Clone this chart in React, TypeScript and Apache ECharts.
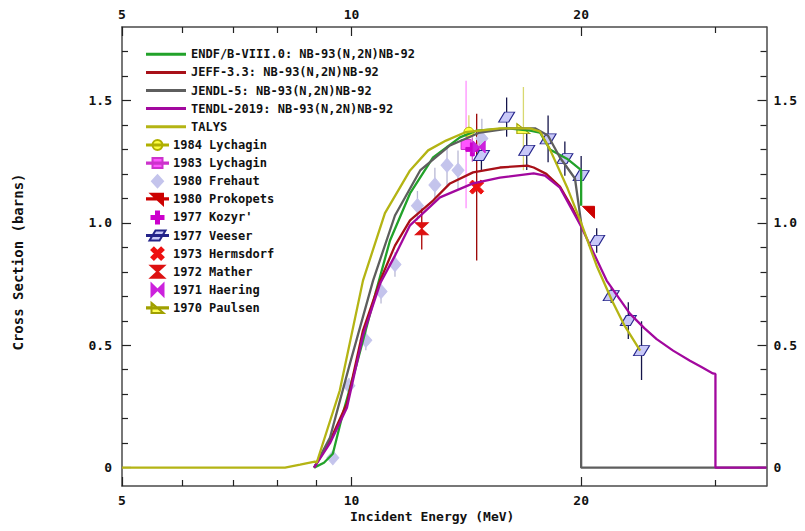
import React, { useEffect, useRef } from "react";
import * as echarts from "echarts";

// ---------- axis ticks ----------
const xTickMajor = [5, 10, 20];
const xTickMinor = [6, 7, 8, 9, 30];
const yTickMajor = [0, 0.5, 1.0, 1.5];
const yTickMinor = [0.1, 0.2, 0.3, 0.4, 0.6, 0.7, 0.8, 0.9, 1.1, 1.2, 1.3, 1.4, 1.6, 1.7];

// ---------- evaluated curves [E (MeV), sigma (b)] ----------
const endfData = [
  [8.93, 0], [9.2, 0.02], [9.45, 0.057], [9.74, 0.221], [10.16, 0.425], [10.8, 0.736],
  [11.23, 0.928], [11.93, 1.12], [12.79, 1.267], [13.87, 1.349], [14.6, 1.377], [16.0, 1.386],
  [17.14, 1.377], [17.66, 1.369], [18.2, 1.3], [19.16, 1.262], [20.0, 1.215], [20.0, 1.07],
];
const jeffData = [
  [8.93, 0], [9.37, 0.11], [9.86, 0.262], [10.35, 0.56], [10.9, 0.764], [11.4, 0.907],
  [11.93, 1.01], [12.79, 1.091], [13.46, 1.161], [14.43, 1.206], [15.65, 1.226], [17.0, 1.234],
  [17.33, 1.226], [18.0, 1.2], [18.76, 1.148], [19.4, 1.07], [20.0, 0.99],
];
const jendlData = [
  [8.93, 0], [9.37, 0.123], [9.95, 0.425], [10.67, 0.764], [11.4, 1.03], [12.3, 1.214],
  [13.46, 1.316], [14.73, 1.369], [16.13, 1.386], [17.4, 1.386], [18.09, 1.357], [18.76, 1.267],
  [19.63, 1.181], [20.0, 1.0], [20.0, 0], [35, 0],
];
const tendlData = [
  [8.93, 0], [9.37, 0.1], [9.86, 0.245], [10.35, 0.54], [10.9, 0.752], [11.4, 0.866],
  [11.93, 0.99], [13.06, 1.104], [14.43, 1.161], [15.65, 1.185], [17.33, 1.202], [17.93, 1.193],
  [18.76, 1.144], [20.0, 0.985], [21.6, 0.764], [23.17, 0.629], [24.2, 0.57], [25.12, 0.525],
  [26.4, 0.478], [27.78, 0.437], [28.8, 0.41], [29.77, 0.385], [30, 0.383], [30, 0], [35, 0],
];
const talysData = [
  [5, 0], [8.18, 0], [8.56, 0.012], [8.95, 0.025], [9.0, 0.02], [9.65, 0.315], [10.35, 0.764],
  [11.06, 1.04], [11.93, 1.214], [12.6, 1.296], [13.3, 1.336], [14.1, 1.37], [15.65, 1.386],
  [17.14, 1.386], [17.66, 1.373], [18.2, 1.3], [19.2, 1.14], [20.0, 1.0], [20.95, 0.826],
  [21.95, 0.683], [22.8, 0.58], [23.9, 0.478],
];

// ---------- experimental data [E, sigma, error] ----------
const lychagin84 = [[14.25, 1.37, 0.07]];
const lychagin83 = [[14.13, 1.32, 0.26]];
const frehaut = [
  [9.45, 0.04, 0.02], [9.92, 0.335, 0.03], [10.44, 0.52, 0.04], [10.93, 0.72, 0.05],
  [11.4, 0.83, 0.05], [12.2, 1.07, 0.06], [12.86, 1.155, 0.07], [13.34, 1.235, 0.08],
  [13.79, 1.215, 0.08], [14.82, 1.345, 0.08],
];
const prokopets = [[20.45, 1.043, 0]];
const kozyr = [[14.4, 1.3, 0.05]];
const veeser = [
  [14.8, 1.275, 0.06], [15.97, 1.432, 0.08], [16.97, 1.296, 0.08], [18.1, 1.343, 0.095],
  [19.04, 1.262, 0.07], [20.0, 1.193, 0.08], [20.96, 0.928, 0.05], [21.9, 0.703, 0.03],
  [23.06, 0.601, 0.075], [24.0, 0.478, 0.12],
];
const hermsdorf = [[14.59, 1.146, 0.3]];
const mather = [[12.36, 0.976, 0.085]];
const haering = [[14.7, 1.31, 0.05]];
const paulsen = [[16.8, 1.385, 0.17]];

const FONT = "DejaVu Sans Mono";
const LINE_ICON = "path://M0,0H40V3H0Z";
const BAR = "M0,5.4H21V6.6H0Z";

const lineDefs = [
  { name: "ENDF/B-VIII.0: NB-93(N,2N)NB-92", data: endfData, color: "#22a22a" },
  { name: "JEFF-3.3: NB-93(N,2N)NB-92", data: jeffData, color: "#a81018" },
  { name: "JENDL-5: NB-93(N,2N)NB-92", data: jendlData, color: "#5e5e5e" },
  { name: "TENDL-2019: NB-93(N,2N)NB-92", data: tendlData, color: "#a2089e" },
  { name: "TALYS", data: talysData, color: "#b4b414" },
];

const expDefs = [
  {
    name: "1984 Lychagin", data: lychagin84, symbol: "circle", size: 10,
    icon: "path://" + BAR + "M5.5,6A5,5 0 1,1 15.5,6A5,5 0 1,1 5.5,6Z",
    fill: "#ffff40", border: "#b0b000", err: "#d8d870",
  },
  {
    name: "1983 Lychagin", data: lychagin83, symbol: "rect", size: 10,
    icon: "path://" + BAR + "M5.5,1H15.5V11H5.5Z",
    fill: "#ff55ff", border: "#cc33cc", err: "#ff90ff",
  },
  {
    name: "1980 Frehaut", data: frehaut, symbol: "diamond", size: [12, 14],
    icon: "path://M10.5,0L16,6L10.5,12L5,6Z",
    fill: "#c4c4ec", border: "#c4c4ec", err: "#b8b8d4",
  },
  {
    name: "1980 Prokopets", data: prokopets, symbol: "path://M0,0L12,0L12,12Z", size: [12, 12],
    icon: "path://" + BAR + "M4,1H16V12Z",
    fill: "#cc0000", border: "#cc0000", err: "#cc0000",
  },
  {
    name: "1977 Kozyr'", data: kozyr, symbol: "path://M3.5,0H6.5V3.5H10V6.5H6.5V10H3.5V6.5H0V3.5H3.5Z", size: 13,
    icon: "path://M9,0H12V4.5H16.5V7.5H12V12H9V7.5H4.5V4.5H9Z",
    fill: "#cc00cc", border: "#cc00cc", err: "#cc66cc",
  },
  {
    name: "1977 Veeser", data: veeser, symbol: "path://M0,10L6,0L16,0L10,10Z", size: [16, 10],
    icon: "path://" + BAR + "M2.5,11L8.5,1H18.5L12.5,11Z",
    fill: "#c8c8f8", border: "#24248a", err: "#14144a",
  },
  {
    name: "1973 Hermsdorf", data: hermsdorf, symbol: "path://M2,0L5,3L8,0L10,2L7,5L10,8L8,10L5,7L2,10L0,8L3,5L0,2Z", size: 14,
    icon: "path://M6.9,0L10.5,3.6L14.1,0L16.5,2.4L12.9,6L16.5,9.6L14.1,12L10.5,8.4L6.9,12L4.5,9.6L8.1,6L4.5,2.4Z",
    fill: "#ee1111", border: "#ee1111", err: "#990000",
  },
  {
    name: "1972 Mather", data: mather, symbol: "path://M0,0L10,0L0,10L10,10Z", size: [13, 12],
    icon: "path://M4.5,0.5L16.5,0.5L4.5,11.5L16.5,11.5Z",
    fill: "#dd1111", border: "#dd1111", err: "#aa0000",
  },
  {
    name: "1971 Haering", data: haering, symbol: "path://M0,0L0,10L10,0L10,10Z", size: [12, 12],
    icon: "path://M5,0.5L5,11.5L16,0.5L16,11.5Z",
    fill: "#cc22dd", border: "#cc22dd", err: "#cc66cc",
  },
  {
    name: "1970 Paulsen", data: paulsen, symbol: "path://M0,0L0,10L12,10Z", size: [13, 10],
    icon: "path://" + BAR + "M4.5,1L4.5,11H16.5Z",
    fill: "#ffff55", border: "#a0a000", err: "#d8d870",
  },
];

const AXIS_COLOR = "#4a4a4a";

function makeXAxis(position: string, ticks: number[], len: number, labels: boolean, line: boolean) {
  return {
    type: "log",
    logBase: 10,
    min: 5,
    max: 35,
    position,
    axisLine: { show: line, onZero: false, lineStyle: { color: AXIS_COLOR, width: 1.5 } },
    axisTick: { show: true, inside: true, length: len, customValues: ticks, lineStyle: { color: "#222", width: 1.2 } },
    axisLabel: {
      show: labels,
      customValues: ticks,
      margin: position === "top" ? 6 : 8,
      fontFamily: FONT,
      fontSize: 13,
      fontWeight: "bold",
      color: "#111",
    },
    splitLine: { show: false },
    minorTick: { show: false },
    minorSplitLine: { show: false },
  };
}

function makeYAxis(position: string, ticks: number[], len: number, labels: boolean, line: boolean) {
  return {
    type: "value",
    min: -0.075,
    max: 1.8,
    position,
    axisLine: { show: line, onZero: false, lineStyle: { color: AXIS_COLOR, width: 1.5 } },
    axisTick: { show: true, inside: true, length: len, customValues: ticks, lineStyle: { color: "#222", width: 1.2 } },
    axisLabel: {
      show: labels,
      customValues: ticks,
      margin: position === "left" ? 10 : 7,
      fontFamily: FONT,
      fontSize: 13,
      fontWeight: "bold",
      color: "#111",
      formatter: (v: number) => (v === 0 ? "0" : v.toFixed(1)),
    },
    splitLine: { show: false },
  };
}

export default function App() {
  const ref = useRef<HTMLDivElement | null>(null);

  useEffect(() => {
    if (!ref.current) return;
    const chart = echarts.init(ref.current, undefined, { renderer: "svg" });

    const series: any[] = [];
    lineDefs.forEach((d) => {
      series.push({
        name: d.name,
        type: "line",
        data: d.data,
        showSymbol: false,
        symbol: "none",
        lineStyle: { color: d.color, width: 2.3 },
        itemStyle: { color: d.color },
        xAxisIndex: 0,
        yAxisIndex: 0,
      });
    });
    expDefs.forEach((d) => {
      const errColor = d.err;
      series.push({
        name: d.name + " err",
        type: "custom",
        xAxisIndex: 0,
        yAxisIndex: 0,
        data: d.data.filter((p) => p[2] > 0).map((p) => [p[0], p[1] - p[2], p[1] + p[2]]),
        encode: { x: 0, y: [1, 2] },
        renderItem: (_params: any, api: any) => {
          const x = api.value(0);
          const p1 = api.coord([x, api.value(1)]);
          const p2 = api.coord([x, api.value(2)]);
          return {
            type: "line",
            shape: { x1: p1[0], y1: p1[1], x2: p2[0], y2: p2[1] },
            style: { stroke: errColor, lineWidth: 1.3 },
          };
        },
      });
    });
    expDefs.forEach((d) => {
      series.push({
        name: d.name,
        type: "scatter",
        xAxisIndex: 0,
        yAxisIndex: 0,
        data: d.data.map((p) => [p[0], p[1]]),
        symbol: d.symbol,
        symbolSize: d.size,
        itemStyle: { color: d.fill, borderColor: d.border, borderWidth: 1, opacity: 1 },
      });
    });

    const legendText = {
      fontFamily: FONT,
      fontSize: 12,
      fontWeight: "bold",
      color: "#111",
      lineHeight: 14,
    };

    chart.setOption({
      animation: false,
      backgroundColor: "#ffffff",
      grid: { left: 122, right: 38.5, top: 27, bottom: 45, containLabel: false },
      xAxis: [
        makeXAxis("bottom", xTickMajor, 9, true, true),
        makeXAxis("bottom", xTickMinor, 6, false, false),
        makeXAxis("top", xTickMajor, 9, true, true),
        makeXAxis("top", xTickMinor, 6, false, false),
      ],
      yAxis: [
        makeYAxis("left", yTickMajor, 9, true, true),
        makeYAxis("left", yTickMinor, 6, false, false),
        makeYAxis("right", yTickMajor, 9, true, true),
        makeYAxis("right", yTickMinor, 6, false, false),
      ],
      legend: [
        {
          data: lineDefs.map((d) => ({ name: d.name, icon: LINE_ICON })),
          orient: "vertical",
          left: 146,
          top: 47.3,
          padding: 0,
          itemWidth: 40,
          itemHeight: 14,
          itemGap: 4.1,
          symbolKeepAspect: true,
          textStyle: legendText,
          selectedMode: false,
        },
        {
          data: expDefs.map((d) => ({ name: d.name, icon: d.icon })),
          orient: "vertical",
          left: 146,
          top: 138,
          padding: 0,
          itemWidth: 21,
          itemHeight: 12,
          itemGap: 4.1,
          symbolKeepAspect: true,
          textStyle: legendText,
          selectedMode: false,
        },
      ],
      graphic: [
        {
          type: "text",
          left: 350,
          top: 510,
          style: {
            text: "Incident Energy (MeV)",
            fontFamily: FONT,
            fontSize: 13,
            fontWeight: "bold",
            fill: "#111",
          },
        },
        {
          type: "text",
          x: 17.5,
          y: 262,
          rotation: Math.PI / 2,
          style: {
            text: "Cross Section (barns)",
            fontFamily: FONT,
            fontSize: 14,
            fontWeight: "bold",
            fill: "#111",
            align: "center",
            verticalAlign: "middle",
          },
        },
      ],
      series,
    });

    return () => {
      chart.dispose();
    };
  }, []);

  return (
    <div
      ref={ref}
      style={{ position: "fixed", left: 0, top: 0, width: 805, height: 531, background: "#fff" }}
    />
  );
}
